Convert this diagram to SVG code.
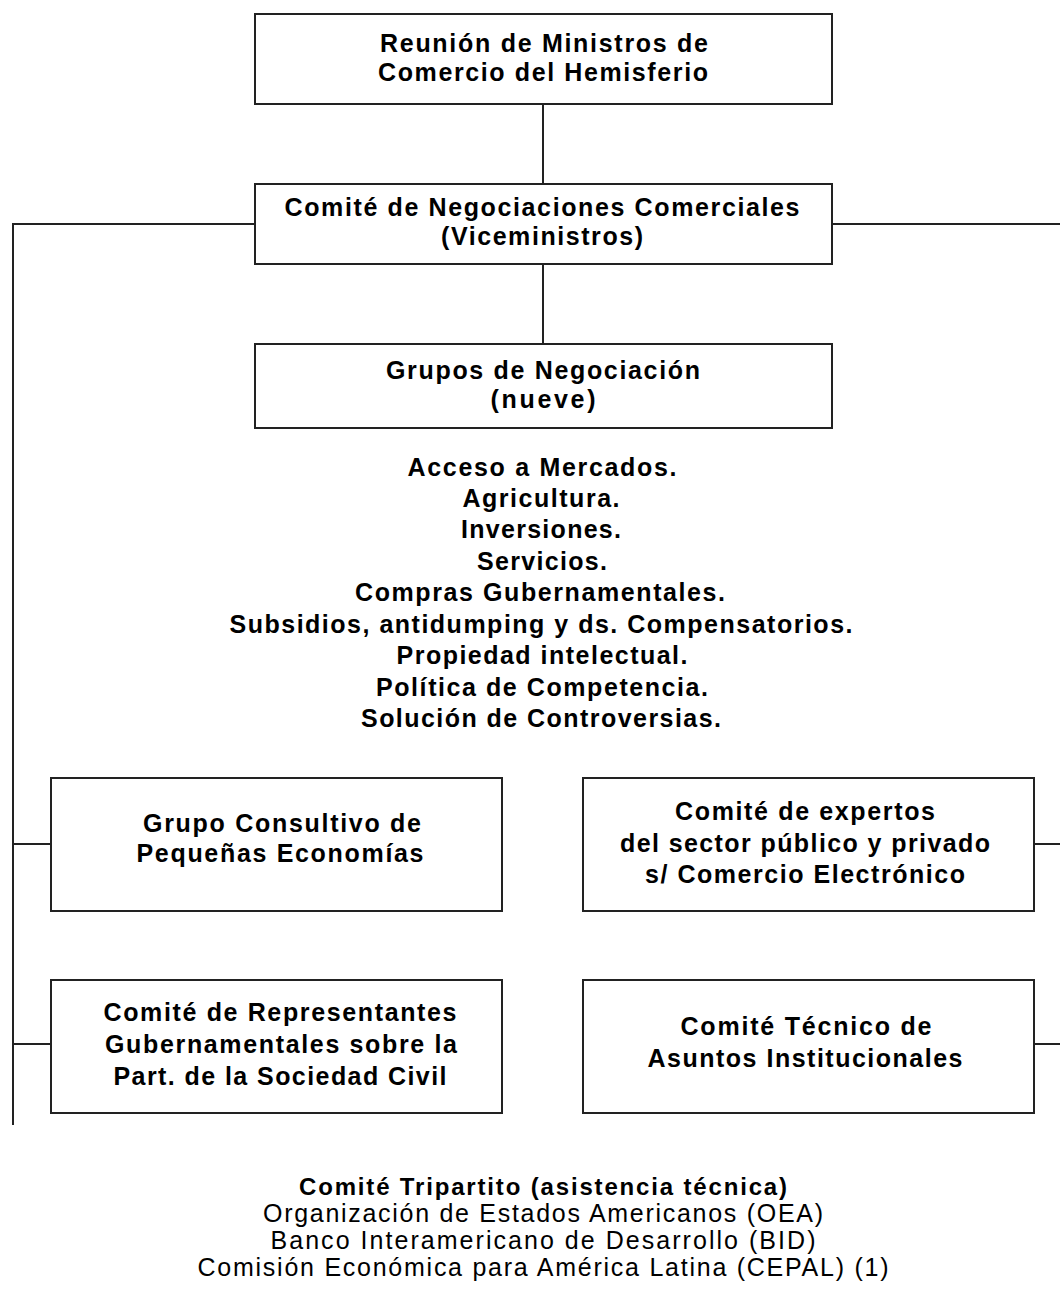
<svg xmlns="http://www.w3.org/2000/svg" width="1060" height="1293" viewBox="0 0 1060 1293">
<style>
rect.box{fill:#fff;stroke:#222;stroke-width:2}
.conn line,.conn polyline{stroke:#222;stroke-width:2;fill:none}
text{font-family:"Liberation Sans",Arial,sans-serif;text-anchor:middle;fill:#000}
.b{font-weight:bold;font-size:25px}
.r{font-weight:normal;font-size:25px}
</style>
<rect width="1060" height="1293" fill="#fff"/>
<g class="conn" id="connectors">
<line x1="543" y1="104" x2="543" y2="184"/>
<line x1="543" y1="264" x2="543" y2="344"/>
<polyline points="255,224 13,224 13,1125"/>
<line x1="832" y1="224" x2="1060" y2="224"/>
<line x1="13" y1="844" x2="51" y2="844"/>
<line x1="13" y1="1044" x2="51" y2="1044"/>
<line x1="1034" y1="844" x2="1060" y2="844"/>
<line x1="1034" y1="1044" x2="1060" y2="1044"/>
</g>
<g id="ministros">
<rect class="box" x="255" y="14" width="577" height="90"/>
<text class="b" x="544" y="52" textLength="328" lengthAdjust="spacing">Reunión de Ministros de</text>
<text class="b" x="543" y="81" textLength="330" lengthAdjust="spacing">Comercio del Hemisferio</text>
</g>
<g id="cnc">
<rect class="box" x="255" y="184" width="577" height="80"/>
<text class="b" x="542" y="216" textLength="515" lengthAdjust="spacing">Comité de Negociaciones Comerciales</text>
<text class="b" x="542" y="245" textLength="202" lengthAdjust="spacing">(Viceministros)</text>
</g>
<g id="grupos">
<rect class="box" x="255" y="344" width="577" height="84"/>
<text class="b" x="543" y="379" textLength="314" lengthAdjust="spacing">Grupos de Negociación</text>
<text class="b" x="543" y="408" textLength="105" lengthAdjust="spacing">(nueve)</text>
</g>
<g id="lista">
<text class="b" x="542" y="476" textLength="269" lengthAdjust="spacing">Acceso a Mercados.</text>
<text class="b" x="541" y="507" textLength="157" lengthAdjust="spacing">Agricultura.</text>
<text class="b" x="541" y="538" textLength="160" lengthAdjust="spacing">Inversiones.</text>
<text class="b" x="542" y="570" textLength="130" lengthAdjust="spacing">Servicios.</text>
<text class="b" x="540" y="601" textLength="370" lengthAdjust="spacing">Compras Gubernamentales.</text>
<text class="b" x="541" y="633" textLength="623" lengthAdjust="spacing">Subsidios, antidumping y ds. Compensatorios.</text>
<text class="b" x="542" y="664" textLength="291" lengthAdjust="spacing">Propiedad intelectual.</text>
<text class="b" x="542" y="696" textLength="332" lengthAdjust="spacing">Política de Competencia.</text>
<text class="b" x="541" y="727" textLength="360" lengthAdjust="spacing">Solución de Controversias.</text>
</g>
<g id="consultivo">
<rect class="box" x="51" y="778" width="451" height="133"/>
<text class="b" x="282" y="832" textLength="278" lengthAdjust="spacing">Grupo Consultivo de</text>
<text class="b" x="280" y="862" textLength="287" lengthAdjust="spacing">Pequeñas Economías</text>
</g>
<g id="expertos">
<rect class="box" x="583" y="778" width="451" height="133"/>
<text class="b" x="805" y="820" textLength="260" lengthAdjust="spacing">Comité de expertos</text>
<text class="b" x="805" y="852" textLength="370" lengthAdjust="spacing">del sector público y privado</text>
<text class="b" x="805" y="883" textLength="320" lengthAdjust="spacing">s/ Comercio Electrónico</text>
</g>
<g id="representantes">
<rect class="box" x="51" y="980" width="451" height="133"/>
<text class="b" x="280" y="1021" textLength="353" lengthAdjust="spacing">Comité de Representantes</text>
<text class="b" x="281" y="1053" textLength="352" lengthAdjust="spacing">Gubernamentales sobre la</text>
<text class="b" x="280" y="1085" textLength="333" lengthAdjust="spacing">Part. de la Sociedad Civil</text>
</g>
<g id="tecnico">
<rect class="box" x="583" y="980" width="451" height="133"/>
<text class="b" x="806" y="1035" textLength="251" lengthAdjust="spacing">Comité Técnico de</text>
<text class="b" x="805" y="1067" textLength="315" lengthAdjust="spacing">Asuntos Institucionales</text>
</g>
<g id="tripartito">
<text class="b" x="543" y="1195" style="font-size:24px" textLength="488" lengthAdjust="spacing">Comité Tripartito (asistencia técnica)</text>
<text class="r" x="543" y="1222" textLength="560" lengthAdjust="spacing">Organización de Estados Americanos (OEA)</text>
<text class="r" x="543" y="1249" textLength="545" lengthAdjust="spacing">Banco Interamericano de Desarrollo (BID)</text>
<text class="r" x="543" y="1276" textLength="691" lengthAdjust="spacing">Comisión Económica para América Latina (CEPAL) (1)</text>
</g>
</svg>
